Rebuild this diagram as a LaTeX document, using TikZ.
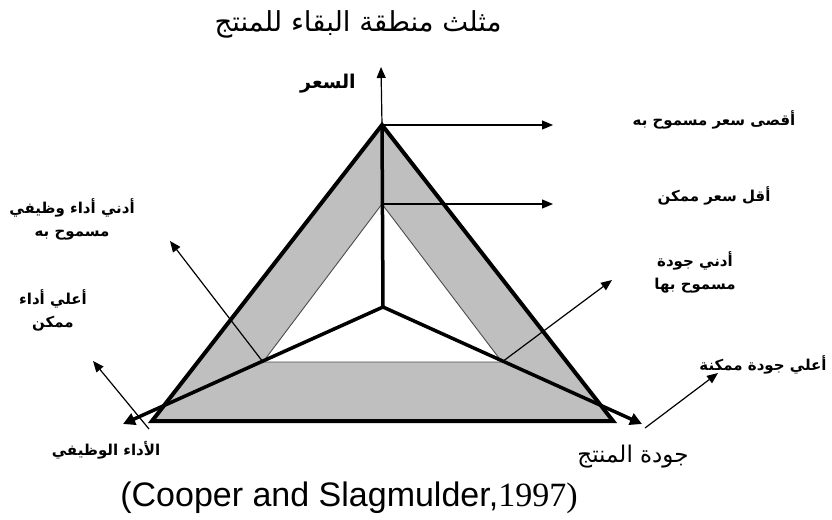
\documentclass[tikz,border=0pt]{standalone}
\usepackage{fontspec}
\setmainfont{Liberation Sans}
\newfontfamily\arabicfont[Script=Arabic]{DejaVu Sans}
\newfontfamily\citeserif{Liberation Serif}
\TeXXeTstate=1
\usetikzlibrary{arrows.meta}

\begin{document}
\begin{tikzpicture}[x=1pt, y=-1pt,
  lbl/.style={font=\arabicfont\bfseries\fontsize{15}{23}\selectfont,
              align=center, inner sep=0pt},
  axislbl/.style={font=\arabicfont\fontsize{23}{26}\selectfont, inner sep=0pt},
  band/.style={fill=gray!50, even odd rule},
  outer/.style={line width=4pt, line join=miter},
  inner/.style={line width=0.9pt, draw=gray!60!black},
  axis/.style={line width=3.5pt},
  axisarr/.style={line width=3.5pt, -{Triangle[length=12pt, width=12pt]}},
  arr/.style={line width=1.2pt, -{Triangle[length=11pt, width=9pt]}}
]
\useasboundingbox (0,0) rectangle (832,519);

% corners of the triangles
\coordinate (ctr) at (383,307);
\coordinate (topO) at (382,125);
\coordinate (leftO) at (152,421);
\coordinate (rightO) at (613,421);
\coordinate (topI) at (382,204);
\coordinate (leftI) at (263,362);
\coordinate (rightI) at (502,362);
% axis ends
\coordinate (priceTip) at (381,67);
\coordinate (perfTip) at (123,424);
\coordinate (qualTip) at (642,424);
% free ends of the pointers
\coordinate (maxPrice) at (553,125);
\coordinate (minPrice) at (553,204);
\coordinate (minPerf) at (170,241);
\coordinate (maxPerfFrom) at (149,429);
\coordinate (maxPerf) at (93,361);
\coordinate (minQual) at (612,280);
\coordinate (maxQualFrom) at (645,428);
\coordinate (maxQual) at (718,373);

% grey band
\fill[band] (topO) -- (rightO) -- (leftO) -- cycle (topI) -- (rightI) -- (leftI) -- cycle;
\draw[inner] (topI) -- (rightI) -- (leftI) -- cycle;
\draw[outer] (topO) -- (rightO) -- (leftO) -- cycle;

% axes
\draw[axis] (ctr) -- (topO);
\draw[arr] (topO) -- (priceTip);
\draw[axisarr] (ctr) -- (perfTip);
\draw[axisarr] (ctr) -- (qualTip);

% pointers
\draw[arr] (topO) -- (maxPrice);
\draw[arr] (topI) -- (minPrice);
\draw[arr] (leftI) -- (minPerf);
\draw[arr] (maxPerfFrom) -- (maxPerf);
\draw[arr] (rightI) -- (minQual);
\draw[arr] (maxQualFrom) -- (maxQual);

% texts
\node[font=\arabicfont\fontsize{27.5}{32}\selectfont, inner sep=0pt] (title) at (358,24) {\beginR مثلث منطقة البقاء للمنتج\endR};
\node[lbl, font=\arabicfont\bfseries\fontsize{19}{22}\selectfont] (priceLbl) at (328,84) {\beginR السعر\endR};
\node[lbl] (maxPriceLbl) at (714,120) {\beginR أقصى سعر مسموح به\endR};
\node[lbl] (minPriceLbl) at (714,196) {\beginR أقل سعر ممكن\endR};
\node[lbl] (minPerfLbl) at (72,219) {\beginR أدني أداء وظيفي\endR\\\beginR مسموح به\endR};
\node[lbl] (maxPerfLbl) at (53,310) {\beginR أعلي أداء\endR\\\beginR ممكن\endR};
\node[lbl] (minQualLbl) at (695,272) {\beginR أدني جودة\endR\\\beginR مسموح بها\endR};
\node[lbl] (maxQualLbl) at (763,365) {\beginR أعلي جودة ممكنة\endR};
\node[lbl] (perfLbl) at (106,450) {\beginR الأداء الوظيفي\endR};
\node[axislbl] (qualLbl) at (633,457) {\beginR جودة المنتج\endR};
\node[font=\fontsize{34}{38}\selectfont, inner sep=0pt] (source) at (349,498) {(Cooper and Slagmulder,{\citeserif 1997)}};
\end{tikzpicture}
\end{document}
